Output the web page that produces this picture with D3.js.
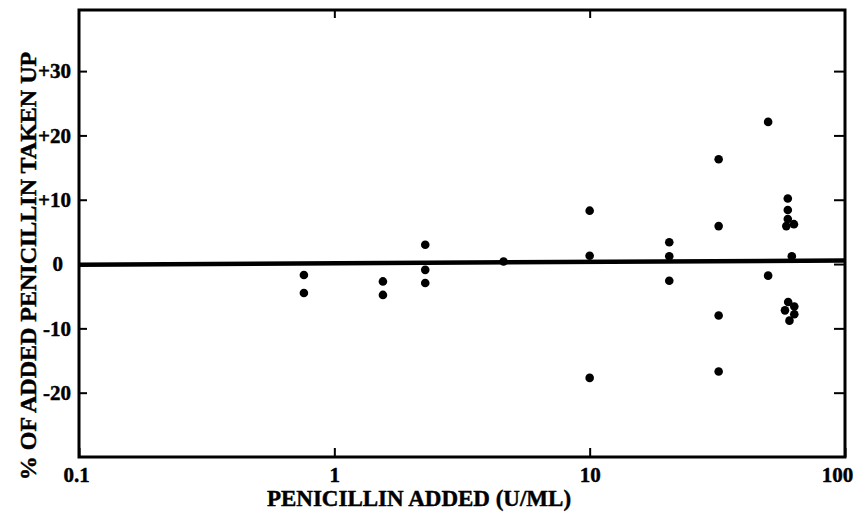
<!DOCTYPE html>
<html>
<head>
<meta charset="utf-8">
<script src="https://cdn.jsdelivr.net/npm/d3@7/dist/d3.min.js"></script>
<style>
  html, body { margin: 0; padding: 0; background: #fff; }
  svg { display: block; }
  text { font-family: "Liberation Serif", "DejaVu Serif", serif; font-weight: bold; fill: #000; stroke: #000; stroke-width: 0.45px; }
</style>
</head>
<body>
<svg id="chart" width="862" height="513"></svg>
<script>
// ---- data ----
const penicillinAdded = [
  0.76, 0.76,
  1.55, 1.55,
  2.27, 2.27, 2.27,
  4.6,
  10, 10, 10,
  20.5, 20.5, 20.5,
  32, 32, 32, 32,
  50, 50,
  59.7, 59.7, 59.7, 58.9, 63.1, 61.9,
  59.9, 63.3, 58.2, 63.3, 60.6
];
const percentTakenUp = [
  -1.7, -4.5,
  -2.7, -4.8,
  3.0, -0.9, -2.95,
  0.4,
  8.3, 1.3, -17.7,
  3.4, 1.2, -2.6,
  16.3, 5.9, -8.0, -16.7,
  22.1, -1.8,
  10.2, 8.4, 7.0, 5.9, 6.2, 1.2,
  -5.9, -6.6, -7.2, -7.8, -8.8
];
// fitted line (nearly horizontal)
const fitX = [0.1, 100];
const fitY = [-0.1, 0.55];

const xTicks = [0.1, 1, 10, 100];
const xTickLabels = ["0.1", "1", "10", "100"];
const yTicks = [30, 20, 10, 0, -10, -20];
const yTickLabels = ["+30", "+20", "+10", "0", "-10", "-20"];

const xTitle = "PENICILLIN ADDED (U/ML)";
const yTitle = "% OF ADDED PENICILLIN TAKEN UP";

// ---- layout ----
const L = 79, R = 845, T = 10, B = 457;
const svg = d3.select("#chart");

const x = d3.scaleLog().domain([0.1, 100]).range([L, R]);
const y = d3.scaleLinear().domain([-30, 39.5]).range([B, T]);

// frame
svg.append("rect")
  .attr("x", L).attr("y", T)
  .attr("width", R - L).attr("height", B - T)
  .attr("fill", "none").attr("stroke", "#000").attr("stroke-width", 3);

function styleAxis(g) {
  g.select(".domain").remove();
  g.selectAll(".tick line").attr("stroke", "#000").attr("stroke-width", 2);
}

// left axis (ticks inward, labels)
svg.append("g")
  .attr("transform", `translate(${L},0)`)
  .call(d3.axisLeft(y).tickValues(yTicks)
    .tickFormat((d, i) => yTickLabels[i])
    .tickSizeInner(-8).tickSizeOuter(0).tickPadding(8))
  .call(styleAxis)
  .call(g => g.selectAll(".tick text")
    .attr("font-size", 21)
    .attr("dx", d => d === 0 ? -8 : 0));

// right axis (ticks only)
svg.append("g")
  .attr("transform", `translate(${R},0)`)
  .call(d3.axisRight(y).tickValues(yTicks).tickFormat("")
    .tickSizeInner(-11).tickSizeOuter(0))
  .call(styleAxis);

// bottom axis
svg.append("g")
  .attr("transform", `translate(0,${B})`)
  .call(d3.axisBottom(x).tickValues(xTicks)
    .tickFormat((d, i) => xTickLabels[i])
    .tickSizeInner(-9).tickSizeOuter(0).tickPadding(10))
  .call(styleAxis)
  .call(g => g.selectAll(".tick text")
    .attr("font-size", 21)
    .attr("dx", d => d === 100 ? -8 : (d === 0.1 ? -3 : 0)));

// top axis (ticks only)
svg.append("g")
  .attr("transform", `translate(0,${T})`)
  .call(d3.axisTop(x).tickValues([1, 10]).tickFormat("")
    .tickSizeInner(-8).tickSizeOuter(0))
  .call(styleAxis);

// fitted line
const line = d3.line().x(d => x(d[0])).y(d => y(d[1]));
svg.append("path")
  .datum(fitX.map((v, i) => [v, fitY[i]]))
  .attr("d", line)
  .attr("fill", "none").attr("stroke", "#000").attr("stroke-width", 4.5);

// points
svg.append("g").selectAll("circle")
  .data(penicillinAdded.map((v, i) => [v, percentTakenUp[i]]))
  .join("circle")
  .attr("cx", d => x(d[0]))
  .attr("cy", d => y(d[1]))
  .attr("r", 4.3)
  .attr("fill", "#000");

// titles
svg.append("text")
  .attr("x", 419).attr("y", 506)
  .attr("text-anchor", "middle")
  .attr("font-size", 23)
  .text(xTitle);

svg.append("text")
  .attr("transform", "translate(36,266) rotate(-90)")
  .attr("text-anchor", "middle")
  .attr("font-size", 24)
  .text(yTitle);
</script>
</body>
</html>
